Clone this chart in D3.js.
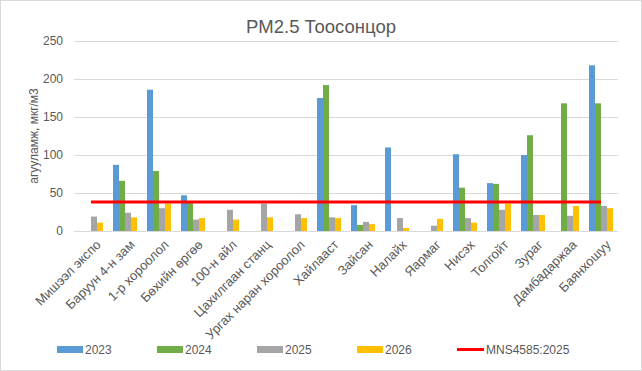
<!DOCTYPE html>
<html>
<head>
<meta charset="utf-8">
<script src="https://cdn.jsdelivr.net/npm/d3@7"></script>
<style>
    body { margin: 0; background: #fff; }
    text { font-family: "Liberation Sans", Arial, sans-serif; fill: #595959; }
</style>
</head>
<body>
<div id="chart"></div>
<script>
var categories = ['Мишээл экспо', 'Баруун 4-н зам', '1-р хороолол', 'Бөхийн өргөө', '100-н айл',
    'Цахилгаан станц', 'Ургах наран хороолол', 'Хайлааст', 'Зайсан', 'Налайх', 'Яармаг',
    'Нисэх', 'Толгойт', 'Зураг', 'Дамбадаржаа', 'Баянхошуу'];
var seriesNames = ['2023', '2024', '2025', '2026'];
var seriesColors = ['#5b9bd5', '#70ad47', '#a5a5a5', '#ffc000'];
var values2023 = [0, 87, 186, 47, 0, 0, 0, 175, 34, 110, 0, 101, 63, 100, 0, 218];
var values2024 = [0, 66, 79, 38, 0, 0, 0, 192, 8, 0, 0, 57, 62, 126, 168, 168];
var values2025 = [19, 24, 30, 15, 28, 36, 22, 18, 12, 17, 7, 17, 28, 21, 20, 33];
var values2026 = [11, 18, 36, 17, 15, 18, 17, 17, 9, 4, 16, 11, 36, 21, 33, 30];
var limitName = 'MNS4585:2025';
var limitValue = 38;
var yTicks = [0, 50, 100, 150, 200, 250];

var width = 642, height = 371;
var plotLeft = 74, plotRight = 618, plotTop = 41, plotBottom = 231;

var svg = d3.select('#chart').append('svg')
    .attr('width', width)
    .attr('height', height);

svg.append('rect')
    .attr('x', 0.5).attr('y', 0.5)
    .attr('width', width - 1).attr('height', height - 1)
    .style('fill', '#fff')
    .style('stroke', '#d9d9d9');

var x0 = d3.scaleBand().domain(categories).range([plotLeft, plotRight]);
var x1 = d3.scaleBand().domain(seriesNames).range([5, 29]);
var y = d3.scaleLinear().domain([0, 250]).range([plotBottom, plotTop]);

// grid
svg.append('g').selectAll('line').data(yTicks).join('line')
    .attr('x1', plotLeft).attr('x2', plotRight)
    .attr('y1', function(d) { return Math.round(y(d)) + 0.5; })
    .attr('y2', function(d) { return Math.round(y(d)) + 0.5; })
    .style('stroke', '#d9d9d9')
    .style('stroke-width', '1px');

var yAxis = svg.append('g')
    .attr('transform', 'translate(' + plotLeft + ',0)')
    .call(d3.axisLeft(y).tickValues(yTicks).tickSize(0).tickPadding(11));
yAxis.select('.domain').remove();
yAxis.selectAll('text')
    .style('font-size', '12px')
    .style('font-family', '"Liberation Sans", Arial, sans-serif')
    .style('fill', '#595959');

// bars
var allSeries = [values2023, values2024, values2025, values2026];
seriesNames.forEach(function(name, i) {
    svg.append('g').selectAll('rect').data(allSeries[i]).join('rect')
        .attr('x', function(d, j) { return x0(categories[j]) + x1(name); })
        .attr('y', function(d) { return y(d); })
        .attr('width', x1.bandwidth())
        .attr('height', function(d) { return plotBottom - y(d); })
        .style('fill', seriesColors[i]);
});

// limit line
svg.append('line')
    .attr('x1', x0(categories[0]) + x0.bandwidth() / 2)
    .attr('x2', x0(categories[categories.length - 1]) + x0.bandwidth() / 2)
    .attr('y1', y(limitValue))
    .attr('y2', y(limitValue))
    .style('stroke', '#ff0000')
    .style('stroke-width', '3px');

// category labels
svg.append('g').selectAll('text').data(categories).join('text')
    .attr('transform', function(d) {
        return 'translate(' + (x0(d) + x0.bandwidth() / 2 + 4) + ',239) rotate(-45)';
    })
    .attr('dy', '0.71em')
    .attr('text-anchor', 'end')
    .style('font-size', '13px')
    .text(function(d) { return d; });

// titles
svg.append('text')
    .attr('x', 321).attr('y', 33)
    .attr('text-anchor', 'middle')
    .style('font-size', '18.5px')
    .text('PM2.5 Тоосонцор');

svg.append('text')
    .attr('transform', 'translate(38,136) rotate(-90)')
    .attr('text-anchor', 'middle')
    .style('font-size', '12px')
    .text('агууламж, мкг/м3');

// legend
var legend = svg.append('g');
seriesNames.forEach(function(name, i) {
    legend.append('rect')
        .attr('x', 57 + i * 100).attr('y', 346)
        .attr('width', 26).attr('height', 7)
        .style('fill', seriesColors[i]);
    legend.append('text')
        .attr('x', 85 + i * 100).attr('y', 354)
        .style('font-size', '12px')
        .text(name);
});
legend.append('line')
    .attr('x1', 457).attr('x2', 484)
    .attr('y1', 349.5).attr('y2', 349.5)
    .style('stroke', '#ff0000')
    .style('stroke-width', '3px');
legend.append('text')
    .attr('x', 486).attr('y', 354)
    .style('font-size', '12px')
    .text(limitName);
</script>
</body>
</html>
